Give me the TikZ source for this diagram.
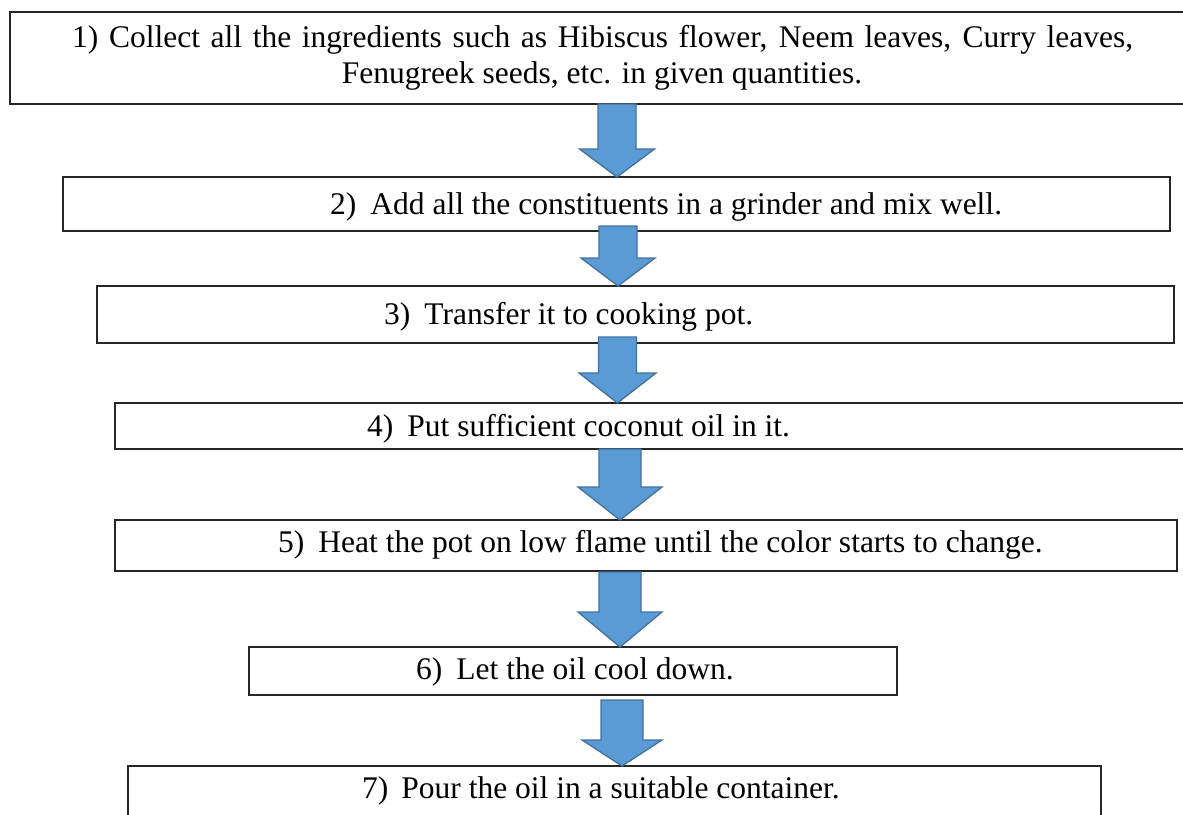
\documentclass[tikz,border=0pt]{standalone}
\usepackage{fontspec}
\setmainfont{Liberation Serif}
\usetikzlibrary{calc}
\definecolor{arrowfill}{RGB}{91,155,213}
\definecolor{arrowline}{RGB}{65,113,156}
\tikzset{
  stepbox/.style={draw=black!85, line width=1.3pt, fill=white, inner sep=0pt, outer sep=0pt},
  steptext/.style={anchor=base west, inner sep=0pt, font=\fontsize{31.5}{36}\selectfont},
  barrow/.style={fill=arrowfill, draw=arrowline, line width=1.3pt, line join=miter},
}
% #1 upper node, #2 lower node, #3 centre x, #4 top shift, #5 shaft half width, #6 head half width, #7 head length
\newcommand\flowarrow[7]{%
  \coordinate (fa-top) at (#3,0 |- #1.south);
  \coordinate (fa-tip) at (#3,0 |- #2.north);
  \draw[barrow] ($(fa-top)+(-#5,#4)$) -- ($(fa-top)+(#5,#4)$)
    -- ($(fa-tip)+(#5,-#7)$) -- ($(fa-tip)+(#6,-#7)$) -- (fa-tip)
    -- ($(fa-tip)+(-#6,-#7)$) -- ($(fa-tip)+(-#5,-#7)$) -- cycle;}
\begin{document}
\begin{tikzpicture}[x=1pt,y=-1pt]
\useasboundingbox (0,0) rectangle (1183,814);
% boxes
\node[stepbox, minimum width=1185pt, minimum height=92pt] (b1) at (602.5,58) {};
\node[stepbox, minimum width=1107pt, minimum height=54pt] (b2) at (616.5,204) {};
\node[stepbox, minimum width=1077pt, minimum height=57pt] (b3) at (635.5,314.5) {};
\node[stepbox, minimum width=1080pt, minimum height=46pt] (b4) at (655,426) {};
\node[stepbox, minimum width=1062pt, minimum height=51pt] (b5) at (646,545.5) {};
\node[stepbox, minimum width=648pt, minimum height=48pt] (b6) at (573,671) {};
\node[stepbox, minimum width=973pt, minimum height=64pt] (b7) at (614.5,798) {};
% texts
\node[steptext] (t1a) at (72,47) {\makebox[1061pt][s]{1) Collect all the ingredients such as Hibiscus flower, Neem leaves, Curry leaves,}};
\node[steptext, anchor=base] (t1b) at (602,83) {Fenugreek seeds, etc. in given quantities.};
\node[steptext] (t2) at (330,214) {2)\hspace{14pt}Add all the constituents in a grinder and mix well.};
\node[steptext] (t3) at (384,324) {3)\hspace{14pt}Transfer it to cooking pot.};
\node[steptext] (t4) at (367,436) {4)\hspace{14pt}Put sufficient coconut oil in it.};
\node[steptext] (t5) at (278,552) {5)\hspace{14pt}Heat the pot on low flame until the color starts to change.};
\node[steptext] (t6) at (416,679) {6)\hspace{14pt}Let the oil cool down.};
\node[steptext] (t7) at (362,798) {7)\hspace{13pt}Pour the oil in a suitable container.};
% arrows
\flowarrow{b1}{b2}{617}{0}{19}{37.5}{28}
\flowarrow{b2}{b3}{618}{-5}{19}{37}{28}
\flowarrow{b3}{b4}{617.5}{-6}{19}{38.5}{30}
\flowarrow{b4}{b5}{620}{0}{21}{42}{33}
\flowarrow{b5}{b6}{620}{1}{21}{42}{35}
\flowarrow{b6}{b7}{622}{5}{21}{40}{26}
\end{tikzpicture}
\end{document}
